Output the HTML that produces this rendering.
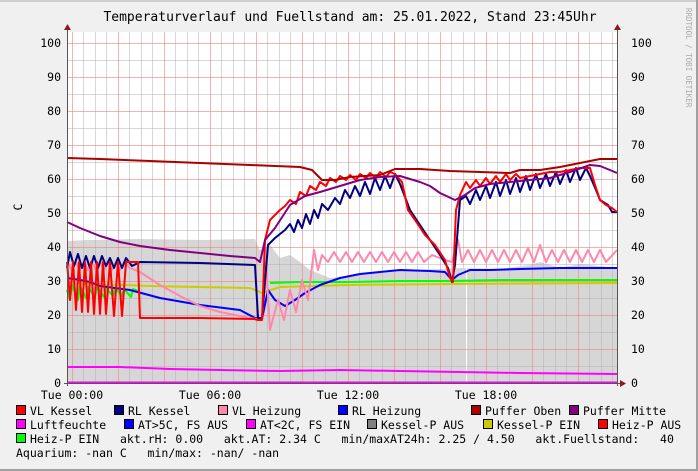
<!DOCTYPE html>
<html><head><meta charset="utf-8"><style>
html,body{margin:0;padding:0;background:#f0f0f0}
svg{display:block}
text{font-family:"DejaVu Sans Mono","Liberation Mono",monospace;fill:#000}
</style></head><body>
<svg width="698" height="471" viewBox="0 0 698 471" xmlns="http://www.w3.org/2000/svg">
<rect x="0" y="0" width="698" height="471" fill="#f0f0f0"/>
<rect x="0" y="0" width="698" height="2" fill="#cfcfcf"/>
<rect x="0" y="469" width="698" height="2" fill="#a0a0a0"/>
<rect x="696" y="0" width="2" height="471" fill="#a0a0a0"/>
<rect x="67" y="32" width="550" height="351" fill="#fff"/>
<polygon fill="#d6d6d6" points="67,383 67,241 90,240 140,239 200,240 255,239 260,250 270,245 280,258 290,255 300,262 310,270 330,278 350,276 380,272 420,270 460,268 500,269 530,265 540,262 560,268 580,264 617,268 617,383"/>
<g fill="#fff">
<rect x="463" y="240" width="1" height="143"/><rect x="466" y="240" width="1" height="143"/><rect x="520" y="240" width="1" height="143"/>
</g>
<g stroke="#b0b0b0" stroke-opacity="0.5">
<path d="M67,60.5H617M67,94.5H617M67,128.5H617M67,162.5H617M67,196.5H617M67,230.5H617M67,264.5H617M67,298.5H617M67,332.5H617M67,366.5H617"/>
<path d="M83.5,32V383M95.5,32V383M106.5,32V383M129.5,32V383M141.5,32V383M152.5,32V383M175.5,32V383M187.5,32V383M198.5,32V383M221.5,32V383M233.5,32V383M244.5,32V383M267.5,32V383M279.5,32V383M290.5,32V383M313.5,32V383M325.5,32V383M336.5,32V383M359.5,32V383M371.5,32V383M382.5,32V383M405.5,32V383M417.5,32V383M428.5,32V383M451.5,32V383M463.5,32V383M474.5,32V383M497.5,32V383M509.5,32V383M520.5,32V383M543.5,32V383M555.5,32V383M566.5,32V383M589.5,32V383M601.5,32V383M612.5,32V383"/>
</g>
<g stroke="#f08080" stroke-opacity="0.6">
<path d="M67,43.5H617M67,77.5H617M67,111.5H617M67,145.5H617M67,179.5H617M67,213.5H617M67,247.5H617M67,281.5H617M67,315.5H617M67,349.5H617"/>
<path d="M72.5,32V383M118.5,32V383M164.5,32V383M210.5,32V383M256.5,32V383M302.5,32V383M348.5,32V383M394.5,32V383M440.5,32V383M486.5,32V383M532.5,32V383M578.5,32V383"/>
</g>
<g fill="none" stroke-width="2" stroke-linejoin="round">
<polyline stroke="#cccc00" points="67,283 150,286 250,288 262,293 280,287 350,285 450,284 617,283"/>
<polyline stroke="#00ff00" points="67,290 70,300 72,285 78,300 80,286 86,298 88,287 95,297 97,287 104,297 106,288 113,296 115,288 122,296 124,289 131,297 133,289 138,291"/>
<polyline stroke="#00ff00" points="270,283 300,282 350,282 400,281 450,281 500,280 617,280"/>
<polyline stroke="#0000ff" points="67,278 80,280 90,282 100,286 130,290 160,298 200,305 240,310 255,318 262,319 268,290 275,300 285,306 295,300 305,293 320,285 340,278 360,274 380,272 400,270 430,271 445,272 452,280 458,275 470,270 490,270 520,269 560,268 617,268"/>
<polyline stroke="#ff88aa" points="67,262 72,270 76,262 80,270 84,262 88,270 92,262 96,270 100,262 104,270 108,262 112,270 116,262 120,270 124,262 130,268 140,272 160,285 180,296 200,306 220,312 250,318 262,320 266,262 270,330 278,300 284,320 290,290 296,312 302,280 308,300 314,250 318,270 322,255 328,262 334,252 340,262 346,252 352,262 358,252 364,262 370,252 376,262 382,252 388,262 394,252 400,262 406,252 412,262 418,252 424,262 432,255 445,260 452,262 458,240 462,262 468,250 474,262 480,250 486,262 492,250 498,262 504,250 510,262 516,250 522,262 528,248 534,262 540,245 546,262 552,250 558,262 564,250 570,262 576,250 582,262 588,250 594,262 600,250 606,262 617,250"/>
<polyline stroke="#000080" points="67,268 70,252 74,266 78,254 82,268 86,256 90,268 94,256 98,268 102,256 106,266 110,258 114,268 118,258 122,268 126,258 132,266 140,262 200,263 255,265 258,318 262,318 268,245 275,238 285,230 290,224 294,232 298,220 302,228 306,214 310,224 314,210 318,218 322,204 328,210 335,198 340,204 345,190 350,198 355,186 360,196 365,182 370,194 375,178 380,190 385,176 390,188 395,174 400,184 410,210 420,225 430,240 440,255 448,268 452,282 455,265 460,200 466,196 470,204 476,190 480,200 486,186 490,198 496,182 500,196 506,180 510,194 516,178 520,192 526,176 530,190 536,174 540,188 546,174 550,186 556,172 560,184 566,170 570,182 576,168 580,180 586,168 590,176 596,190 600,200 608,205 612,212 617,212"/>
<polyline stroke="#ff0000" points="67,262 70,300 73,262 76,310 79,262 82,312 85,262 88,312 91,262 94,314 97,262 100,314 103,262 106,314 110,262 114,316 118,262 122,316 126,262 132,262 138,262 140,318 200,318 254,319 258,320 262,320 265,240 270,220 280,210 285,206 290,200 296,204 300,192 306,196 310,186 316,190 320,182 326,186 330,178 336,182 340,176 346,180 350,175 356,180 360,174 366,178 370,173 376,178 380,172 386,177 390,172 395,174 402,182 408,210 415,220 425,235 435,245 445,260 450,278 453,282 456,210 460,195 466,182 470,188 476,180 480,186 486,178 490,184 496,176 500,182 506,174 510,180 516,174 520,178 530,176 540,174 550,172 560,172 570,170 580,168 590,168 595,185 600,200 606,205 612,208 617,212"/>
<polyline stroke="#800080" points="67,222 80,228 100,236 120,242 140,246 170,250 200,253 230,256 255,258 260,262 265,240 275,228 290,205 305,196 320,192 340,186 360,180 380,177 400,176 420,182 430,186 440,193 455,200 465,195 475,188 490,184 510,182 530,180 550,178 570,172 590,165 600,166 610,170 617,173"/>
<polyline stroke="#aa0000" points="67,158 100,159 150,161 200,163 250,165 300,167 312,170 322,180 335,180 350,177 380,175 395,169 420,169 450,171 480,172 510,173 520,170 540,170 560,167 580,163 600,159 617,159"/>
<polyline stroke="#ff00ff" points="67,367 120,367 170,369 220,370 280,371 340,370 400,371 460,372 520,373 617,374"/>
<line stroke="#ff00ff" x1="67" y1="382.5" x2="617" y2="382.5"/>
</g>
<g stroke="#555" stroke-width="1">
<line x1="67.5" y1="30" x2="67.5" y2="386"/>
<line x1="617.5" y1="30" x2="617.5" y2="386"/>
<line x1="64" y1="383.5" x2="622" y2="383.5"/>
</g>
<g fill="#8b1a1a">
<polygon points="64,30 71,30 67.5,24"/>
<polygon points="614,30 621,30 617.5,24"/>
<polygon points="620,380 620,387 626,383.5"/>
</g>
<g font-size="11.5" text-anchor="end">
<text x="61" y="47">100</text><text x="61" y="81">90</text><text x="61" y="115">80</text><text x="61" y="149">70</text><text x="61" y="183">60</text><text x="61" y="217">50</text><text x="61" y="251">40</text><text x="61" y="285">30</text><text x="61" y="319">20</text><text x="61" y="353">10</text><text x="61" y="387">0</text>
</g>
<g font-size="11.5">
<text x="631" y="47">100</text><text x="631" y="81">90</text><text x="631" y="115">80</text><text x="631" y="149">70</text><text x="631" y="183">60</text><text x="631" y="217">50</text><text x="631" y="251">40</text><text x="631" y="285">30</text><text x="631" y="319">20</text><text x="631" y="353">10</text><text x="631" y="387">0</text>
</g>
<g font-size="11.5" text-anchor="middle">
<text x="72" y="399">Tue 00:00</text><text x="210" y="399">Tue 06:00</text><text x="348" y="399">Tue 12:00</text><text x="486" y="399">Tue 18:00</text>
</g>
<text x="18" y="211" font-size="11.5" transform="rotate(-90 18 207)" text-anchor="middle">C</text>
<text x="350" y="21" font-size="13" text-anchor="middle">Temperaturverlauf und Fuellstand am: 25.01.2022, Stand 23:45Uhr</text>
<text x="686" y="8" font-size="7.5" style="fill:#aaa" transform="rotate(90 686 8)">RRDTOOL / TOBI OETIKER</text>
<g stroke="#000" stroke-width="1">
<rect x="16.5" y="405.5" width="9" height="9" fill="#ff0000"/>
<rect x="114.5" y="405.5" width="9" height="9" fill="#000080"/>
<rect x="218.5" y="405.5" width="9" height="9" fill="#ff88aa"/>
<rect x="338.5" y="405.5" width="9" height="9" fill="#0000ff"/>
<rect x="471.5" y="405.5" width="9" height="9" fill="#aa0000"/>
<rect x="569.5" y="405.5" width="9" height="9" fill="#800080"/>
<rect x="16.5" y="419.5" width="9" height="9" fill="#ff00ff"/>
<rect x="124.5" y="419.5" width="9" height="9" fill="#0000ff"/>
<rect x="246.5" y="419.5" width="9" height="9" fill="#ff00ff"/>
<rect x="367.5" y="419.5" width="9" height="9" fill="#808080"/>
<rect x="483.5" y="419.5" width="9" height="9" fill="#cccc00"/>
<rect x="598.5" y="419.5" width="9" height="9" fill="#ff0000"/>
<rect x="16.5" y="433.5" width="9" height="9" fill="#00ff00"/>
</g>
<g font-size="11.5" style="white-space:pre">
<text x="30" y="415">VL Kessel</text>
<text x="128" y="415">RL Kessel</text>
<text x="232" y="415">VL Heizung</text>
<text x="352" y="415">RL Heizung</text>
<text x="485" y="415">Puffer Oben</text>
<text x="583" y="415">Puffer Mitte</text>
<text x="30" y="429">Luftfeuchte</text>
<text x="138" y="429">AT&gt;5C, FS AUS</text>
<text x="260" y="429">AT&lt;2C, FS EIN</text>
<text x="381" y="429">Kessel-P AUS</text>
<text x="497" y="429">Kessel-P EIN</text>
<text x="612" y="429">Heiz-P AUS</text>
<text x="30" y="443" xml:space="preserve">Heiz-P EIN   akt.rH: 0.00   akt.AT: 2.34 C   min/maxAT24h: 2.25 / 4.50   akt.Fuellstand:   40</text>
<text x="16" y="457" xml:space="preserve">Aquarium: -nan C   min/max: -nan/ -nan</text>
</g>
</svg>
</body></html>
